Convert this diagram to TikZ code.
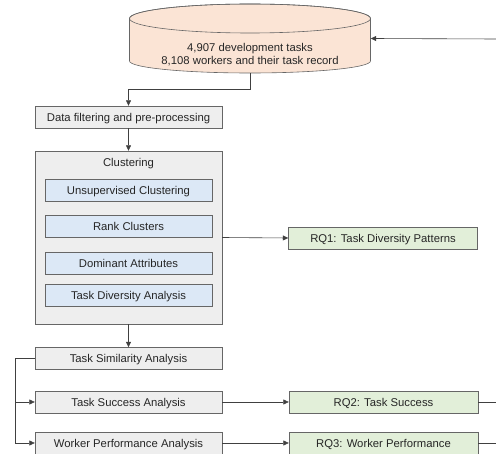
\documentclass[tikz,border=0pt]{standalone}
\usepackage{fontspec}
\setmainfont{Liberation Sans}
\usepackage{xcolor}
\usepackage{tikz}
\usetikzlibrary{arrows.meta,positioning}
\definecolor{dbfill}{HTML}{FBE4D5}
\definecolor{stagegrey}{HTML}{EEEEEE}
\definecolor{subblue}{HTML}{DCE8F6}
\definecolor{rqgreen}{HTML}{E2EFD9}
\definecolor{boxline}{HTML}{666666}
\tikzset {
	txt/.style={font=\fontsize{11.3}{13}\selectfont, text=black!85},
	boxtxt/.style={txt, text height=8.1pt, text depth=0pt},
	stage/.style={rectangle, draw=boxline, fill=stagegrey, boxtxt, minimum width=187pt, minimum height=22pt, inner sep=0pt},
	substage/.style={rectangle, draw=boxline, fill=subblue, boxtxt, minimum width=167pt, minimum height=22pt, inner sep=0pt},
	result/.style={rectangle, draw=boxline, fill=rqgreen, boxtxt, minimum width=189pt, minimum height=22pt, inner sep=0pt},
	dbbox/.style={rectangle, minimum width=241pt, minimum height=69pt, inner sep=0pt},
	database/.style={draw=boxline, fill=dbfill, line width=0.6pt},
	flow/.style={draw=black!75, line width=0.6pt, -{Triangle[length=5.5pt,width=5pt]}},
	feedback/.style={draw=black!75, line width=0.6pt}
}

\begin{document}
\begin{tikzpicture}[x=1pt, y=-1pt]
	\useasboundingbox (0,0) rectangle (496,454);
	\node [dbbox] (db) at (250,38.5) {};
	\path [database] (129.5,18.5) -- (129.5,61) arc [start angle=180, end angle=0, x radius=120.5, y radius=12]
		-- (370.5,18.5) arc [start angle=0, end angle=-180, x radius=120.5, y radius=14.5] -- cycle;
	\draw [database, fill=none] (250,18.5) ellipse [x radius=120.5, y radius=14.5];
	\node [txt, align=center] (dbinfo) at (250,54.5) {4,907 development tasks\\8,108 workers and their task record};
	\node [stage] (prep) at (128.5,117) {Data filtering and pre-processing};
	\node [stage, minimum height=173pt] (clust) at (128.5,237.5) {};
	\node [boxtxt] (clusttitle) at (128.5,162) {Clustering};
	\node [substage] (unsup) at (128.5,190.5) {Unsupervised Clustering};
	\node [substage] (rank) at (128.5,226.5) {Rank Clusters};
	\node [substage] (dom) at (128.5,263) {Dominant Attributes};
	\node [substage] (div) at (128.5,295) {Task Diversity Analysis};
	\node [result] (rqone) at (383,238) {RQ1: Task Diversity Patterns};
	\node [stage] (sim) at (128.5,358.5) {Task Similarity Analysis};
	\node [stage] (succ) at (128.5,402) {Task Success Analysis};
	\node [stage] (perf) at (128.5,443) {Worker Performance Analysis};
	\node [result] (rqtwo) at (383.5,402) {RQ2: Task Success};
	\node [result] (rqthree) at (383.5,443) {RQ3: Worker Performance};
	\coordinate (inone) at (496,39);
	\coordinate (outtwo) at (496,402);
	\coordinate (outthree) at (496,443);
	\draw [flow] (db.south) -- ++(0,16) -| (prep.north);
	\draw [flow] (prep.south) -- (clust.north);
	\draw [flow] (clust.east) -- (rqone.west);
	\draw [flow] (clust.south) -- (sim.north);
	\draw [flow] (sim.west) -- ++(-20,0) |- (succ.west);
	\draw [flow] (sim.west) -- ++(-20,0) |- (perf.west);
	\draw [flow] (succ.east) -- (rqtwo.west);
	\draw [flow] (perf.east) -- (rqthree.west);
	\draw [feedback] (rqtwo.east) -- (outtwo);
	\draw [feedback] (rqthree.east) -- (outthree);
	\draw [flow] (inone) -- (db.east);
\end{tikzpicture}
\end{document}
